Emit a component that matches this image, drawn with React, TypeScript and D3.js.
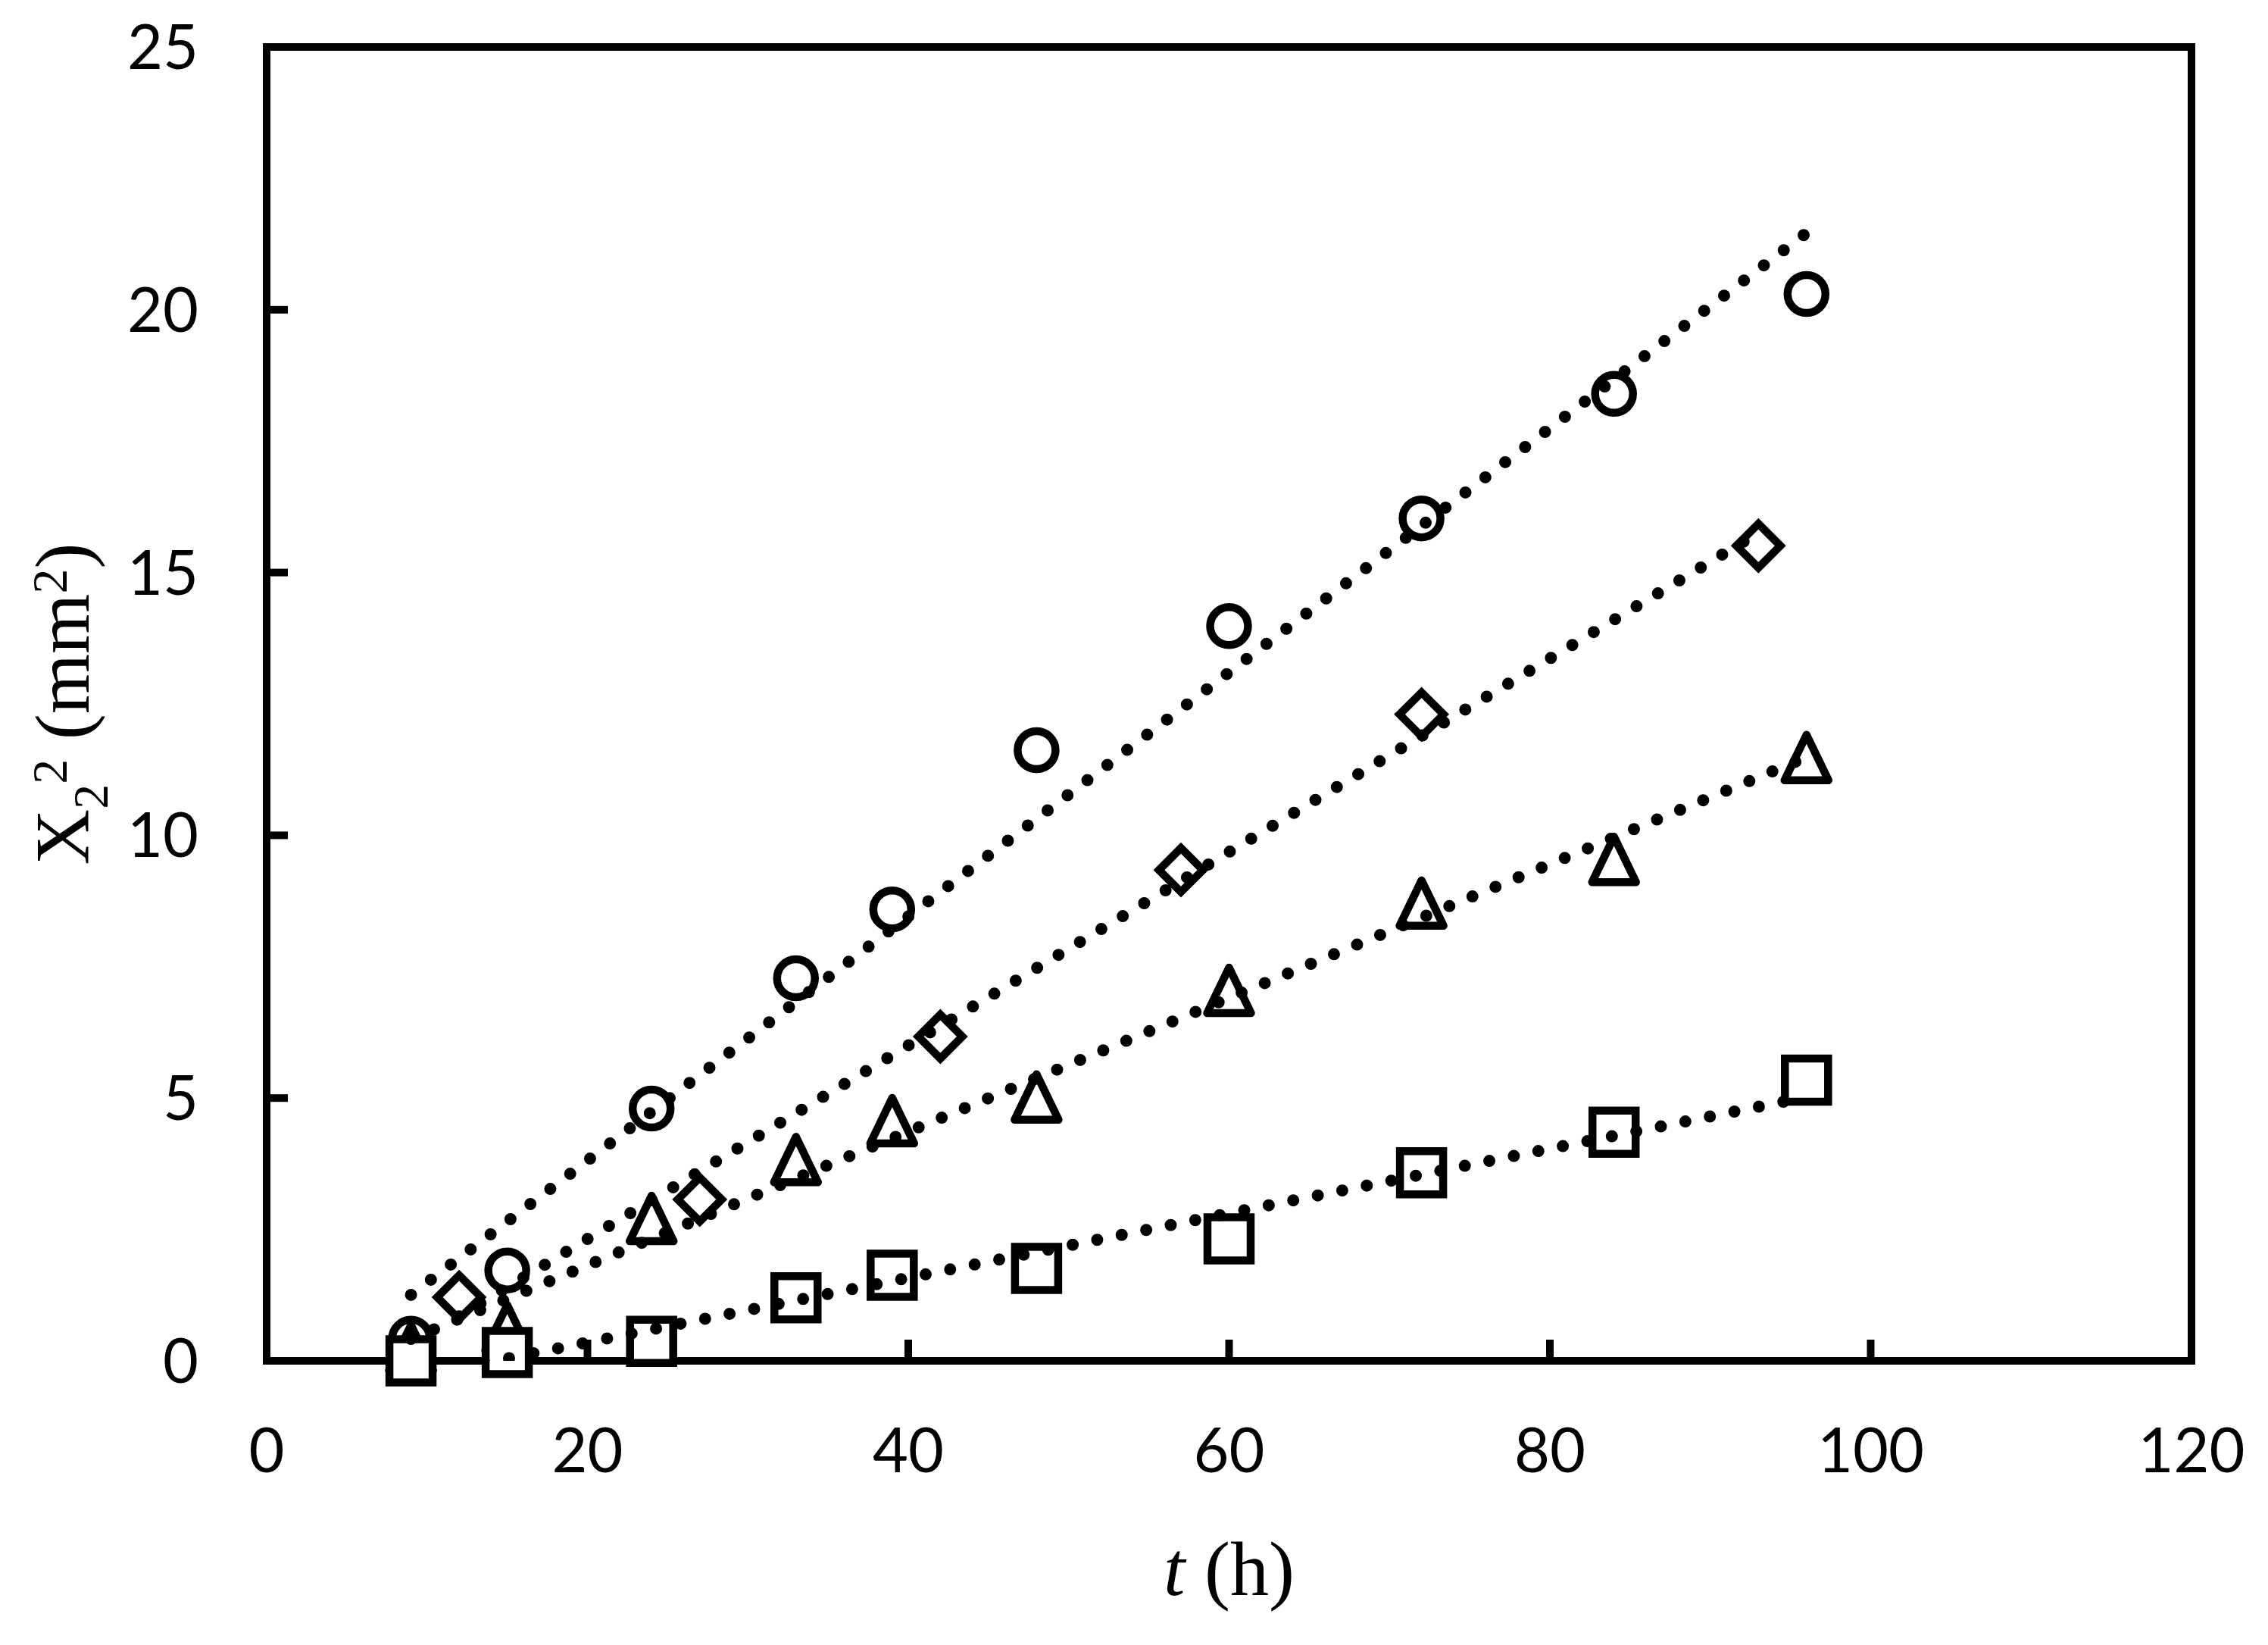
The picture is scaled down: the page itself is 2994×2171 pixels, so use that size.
import React from "react";
import * as d3 from "d3";

// time (h) for each series
const hoursCircle = [9, 15, 24, 33, 39, 48, 60, 72, 84, 96];
const hoursDiamond = [12, 27, 42, 57, 72, 93];
const hoursTriangle = [9, 15, 24, 33, 39, 48, 60, 72, 84, 96];
const hoursSquare = [9, 15, 24, 33, 39, 48, 60, 72, 84, 96];

// X2^2 (mm^2)
const circleVals = [0.42, 1.72, 4.8, 7.28, 8.59, 11.62, 13.98, 16.03, 18.4, 20.3];
const diamondVals = [1.21, 3.07, 6.17, 9.34, 12.3, 15.51];
const triangleVals = [0.25, 0.63, 2.71, 3.83, 4.57, 5.02, 7.05, 8.71, 9.54, 11.48];
const squareVals = [0.0, 0.16, 0.37, 1.2, 1.63, 1.76, 2.32, 3.58, 4.35, 5.34];

const xTicks = [0, 20, 40, 60, 80, 100, 120];
const yTicks = [0, 5, 10, 15, 20, 25];

const W = 2994, H = 2171;
const left = 352, right = 2893, top = 62, bottom = 1796;

const x = d3.scaleLinear().domain([0, 120]).range([left, right]);
const y = d3.scaleLinear().domain([0, 25]).range([bottom, top]);

// ordinary least squares, like the spreadsheet's linear trendline
function fit(xs: number[], ys: number[]) {
  const mx = d3.mean(xs)!, my = d3.mean(ys)!;
  const sxy = d3.sum(xs, (v, i) => (v - mx) * (ys[i] - my));
  const sxx = d3.sum(xs, (v) => (v - mx) * (v - mx));
  const slope = sxy / sxx;
  const icpt = my - slope * mx;
  const ext = d3.extent(xs) as [number, number];
  return ext.map((t) => [t, icpt + slope * t] as [number, number]);
}

const line = d3.line<[number, number]>()
  .x((d) => x(d[0]))
  .y((d) => y(d[1]));

function marker(kind: string, cx: number, cy: number) {
  if (kind === "circle") {
    const r = 25;
    return `M${cx - r},${cy}a${r},${r} 0 1,0 ${2 * r},0a${r},${r} 0 1,0 ${-2 * r},0Z`;
  }
  if (kind === "diamond") {
    const h = 29;
    return `M${cx},${cy - h}L${cx + h},${cy}L${cx},${cy + h}L${cx - h},${cy}Z`;
  }
  if (kind === "triangle") {
    return `M${cx},${cy - 30}L${cx + 29},${cy + 30}L${cx - 29},${cy + 30}Z`;
  }
  const s = 28.5;
  return `M${cx - s},${cy - s}H${cx + s}V${cy + s}H${cx - s}Z`;
}

const series = [
  { kind: "circle", xs: hoursCircle, ys: circleVals },
  { kind: "diamond", xs: hoursDiamond, ys: diamondVals },
  { kind: "triangle", xs: hoursTriangle, ys: triangleVals },
  { kind: "square", xs: hoursSquare, ys: squareVals },
];

export default function App() {
  const tickFont = "Lato, 'Open Sans', sans-serif";
  const serif = "'Liberation Serif', 'Times New Roman', serif";
  return (
    <svg width={W} height={H} style={{ position: "absolute", left: 0, top: 0, background: "#fff" }}>
      <defs>
        <clipPath id="plotArea">
          <rect x={left} y={top} width={right - left} height={bottom - top} />
        </clipPath>
      </defs>
      <rect x={0} y={0} width={W} height={H} fill="#fff" />

      {/* frame */}
      <rect x={left} y={top} width={right - left} height={bottom - top}
        fill="none" stroke="#000" strokeWidth={10} />

      {/* ticks and labels */}
      {xTicks.map((t) => (
        <g key={"x" + t}>
          <line x1={x(t)} x2={x(t)} y1={bottom} y2={bottom - 28} stroke="#000" strokeWidth={10} />
          <text x={x(t)} y={bottom + 147} textAnchor="middle" fontFamily={tickFont} fontSize={81}>{t}</text>
        </g>
      ))}
      {yTicks.map((t) => (
        <g key={"y" + t}>
          <line x1={left} x2={left + 28} y1={y(t)} y2={y(t)} stroke="#000" strokeWidth={10} />
          <text x={262} y={y(t) + 29} textAnchor="end" fontFamily={tickFont} fontSize={81}>{t}</text>
        </g>
      ))}

      {/* markers */}
      {series.map((s) => (
        <g key={s.kind}>
          {s.xs.map((t, i) => (
            <path key={i} d={marker(s.kind, x(t), y(s.ys[i]))}
              fill="#fff" stroke="#000" strokeWidth={10.5}
              strokeLinejoin={s.kind === "triangle" ? "round" : "miter"} />
          ))}
        </g>
      ))}

      {/* dotted linear trendlines */}
      <g clipPath="url(#plotArea)">
        {series.map((s) => (
          <path key={s.kind} d={line(fit(s.xs, s.ys)) || ""}
            fill="none" stroke="#000" strokeWidth={16}
            strokeLinecap="round" strokeDasharray="0 33" />
        ))}
      </g>

      {/* axis titles */}
      <text x={(left + right) / 2} y={2105} textAnchor="middle" fontFamily={serif} fontSize={102}
        style={{ whiteSpace: "pre" }}>
        <tspan fontStyle="italic">t</tspan>
        <tspan> (h)</tspan>
      </text>
      <text transform={`translate(117, ${(top + bottom) / 2}) rotate(-90)`} textAnchor="middle"
        fontFamily={serif} fontSize={102} style={{ whiteSpace: "pre" }}>
        <tspan>X</tspan>
        <tspan fontSize={66} dy={25}>2</tspan>
        <tspan fontSize={66} dy={-54}>2</tspan>
        <tspan dy={29}> (mm</tspan>
        <tspan fontSize={66} dy={-29}>2</tspan>
        <tspan dy={29}>)</tspan>
      </text>
    </svg>
  );
}
